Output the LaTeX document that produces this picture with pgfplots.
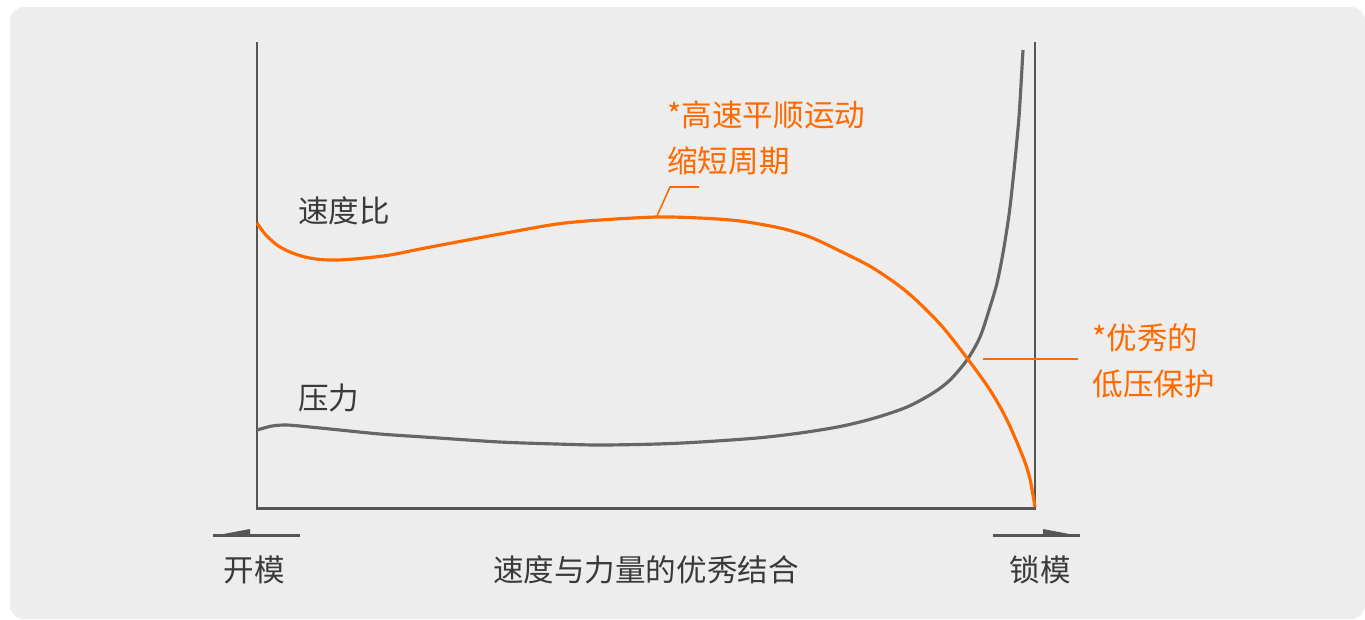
\documentclass[border=0pt]{standalone}
\usepackage{pgfplots}
\pgfplotsset{compat=1.18}
\usepackage{fontspec}
\setmainfont{Noto Sans CJK SC}
\definecolor{bgc}{HTML}{EDEDED}
\definecolor{axc}{HTML}{555555}
\definecolor{grc}{HTML}{666666}
\definecolor{orc}{HTML}{FF6A00}
\definecolor{txc}{HTML}{3A3A3A}
\begin{document}
\begin{tikzpicture}
\begin{axis}[hide axis, scale only axis, width=13.65cm, height=6.19cm,
  xmin=0, xmax=1365, ymin=0, ymax=619, y dir=reverse, clip=false]
\fill[white] (axis cs:0,0) rectangle (axis cs:1365,619);
\fill[bgc, rounded corners=4pt] (axis cs:10,7) rectangle (axis cs:1365,619);
% axis frame
\addplot[axc, line width=0.85pt, mark=none] coordinates {(257,42) (257,508) (1035,508) (1035,42)};
% arrows
\addplot[axc, line width=0.8pt, mark=none] coordinates {(213,535.5) (300,535.5)};
\addplot[axc, fill=axc, draw=none, mark=none] coordinates {(213,536) (250,529) (250,536)} -- cycle;
\addplot[axc, line width=0.8pt, mark=none] coordinates {(993,535.5) (1080,535.5)};
\addplot[axc, fill=axc, draw=none, mark=none] coordinates {(1043,529) (1080,536) (1043,536)} -- cycle;
% pressure curve
\addplot[grc, line width=0.9pt, smooth, tension=0.5, mark=none] coordinates {
(257,430) (272,426) (287,425) (310,427) (340,430) (380,434) (424,437) (500,442) (557,444)
(600,445) (657,444) (700,442) (757,438) (800,433) (840,426.5) (873,418.5) (907,407)
(933,393) (950,380) (967,360) (980,337) (990,307) (997,283) (1003,253)
(1009,215) (1013,180) (1016,150) (1019,117) (1021,85) (1023,50)};
% speed curve
\addplot[orc, line width=0.9pt, smooth, tension=0.5, mark=none] coordinates {
(257,223) (265,234) (277,245) (290,252) (305,257) (320,259.5) (337,260) (360,258.5)
(390,255) (420,249) (457,242) (500,234) (557,224) (600,220) (657,217) (700,218)
(740,221) (780,228) (810,237) (840,251) (873,268) (907,292) (940,324) (967,358)
(990,390) (1007,420) (1023,457) (1030,479) (1035,507)};
% leaders
\addplot[orc, line width=0.45pt, mark=none] coordinates {(657,216) (670,187) (699,187)};
\addplot[orc, line width=0.5pt, mark=none] coordinates {(983,359) (1078,359)};
% texts
\node[txc, anchor=west, font=\fontsize{8.7}{10}\selectfont] at (axis cs:286,211) {速度比};
\node[txc, anchor=west, font=\fontsize{8.7}{10}\selectfont] at (axis cs:286,398) {压力};
\node[txc, font=\fontsize{8.7}{10}\selectfont] at (axis cs:254,570) {开模};
\node[txc, font=\fontsize{8.7}{10}\selectfont] at (axis cs:1040,570) {锁模};
\node[txc, font=\fontsize{8.7}{10}\selectfont] at (axis cs:646,570) {速度与力量的优秀结合};
\node[orc, anchor=west, font=\fontsize{8.7}{10}\selectfont] at (axis cs:655,115) {*高速平顺运动};
\node[orc, anchor=west, font=\fontsize{8.7}{10}\selectfont] at (axis cs:655,161) {缩短周期};
\node[orc, anchor=west, font=\fontsize{8.7}{10}\selectfont] at (axis cs:1080,338) {*优秀的};
\node[orc, anchor=west, font=\fontsize{8.7}{10}\selectfont] at (axis cs:1080,384) {低压保护};
\end{axis}
\end{tikzpicture}
\end{document}
